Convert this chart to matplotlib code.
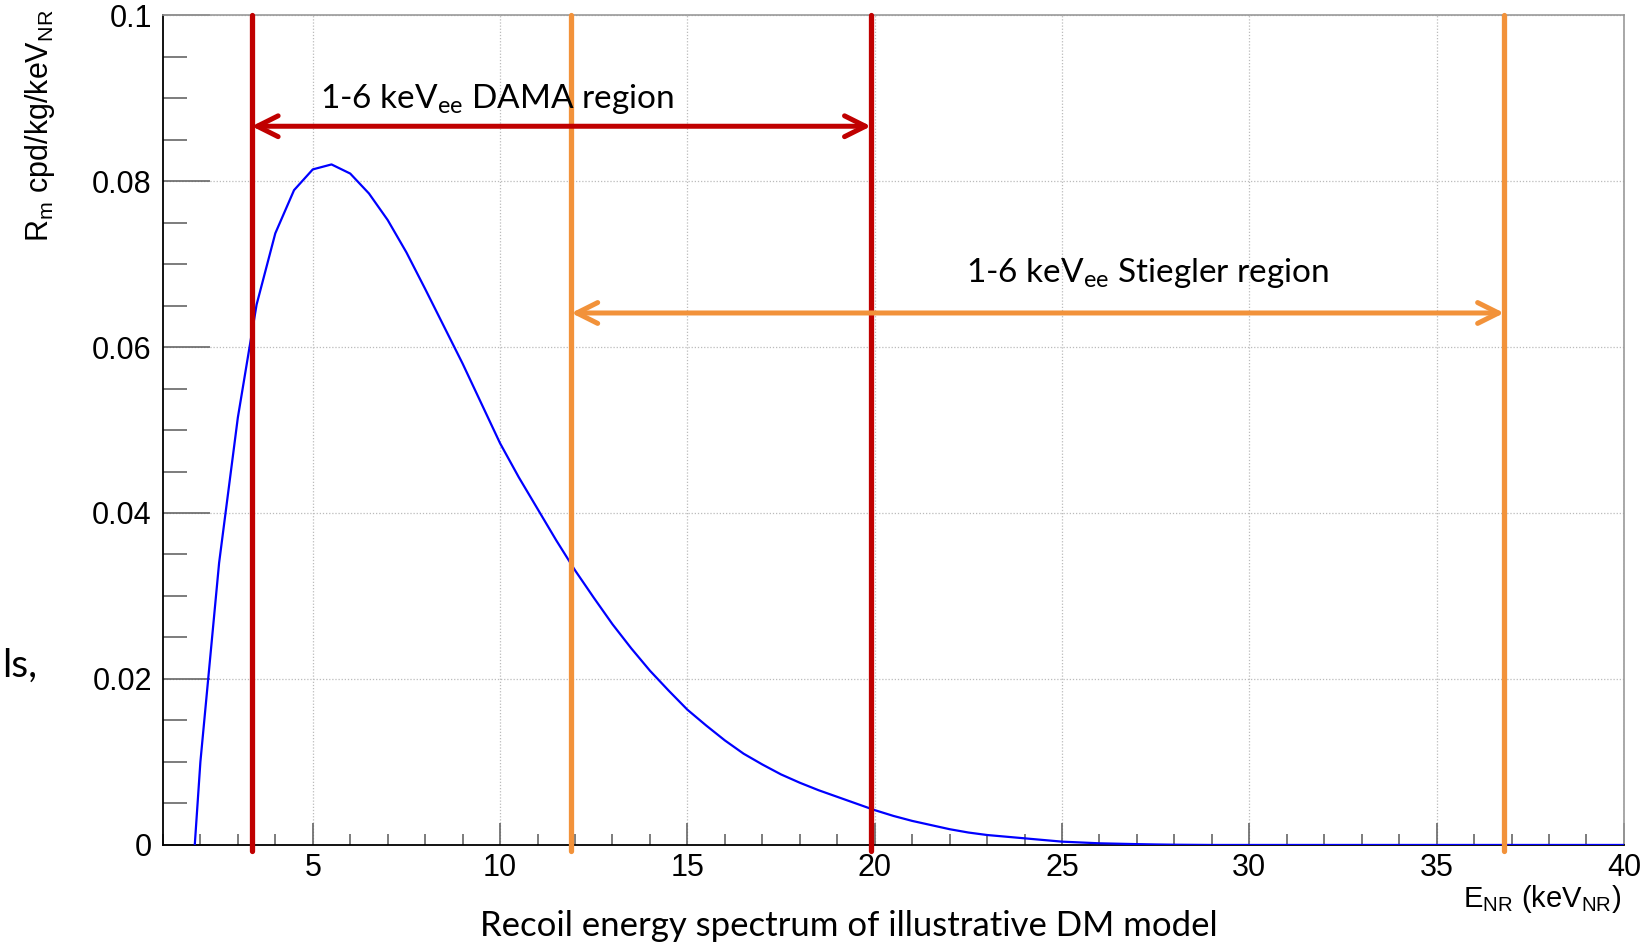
import matplotlib
matplotlib.use("Agg")
import matplotlib.pyplot as plt
from matplotlib.ticker import MultipleLocator, FixedLocator

# Шрифты: подписи графика в стиле Helvetica, аннотации в стиле Gill Sans
plt.rcParams['font.family'] = ['Liberation Sans', 'DejaVu Sans']
plt.rcParams['mathtext.fontset'] = 'custom'
plt.rcParams['mathtext.rm'] = 'Lato'
plt.rcParams['mathtext.sf'] = 'Liberation Sans'

# Спектр энергии отдачи
energy = [1.85, 2.0, 2.5, 3.0, 3.5, 4.0, 4.5, 5.0, 5.5, 6.0, 6.5, 7.0, 7.5, 8.0, 8.5,
          9.0, 9.5, 10.0, 10.5, 11.0, 11.5, 12.0, 12.5, 13.0, 13.5, 14.0, 14.5, 15.0,
          15.5, 16.0, 16.5, 17.0, 17.5, 18.0, 18.5, 19.0, 19.5, 20.0, 20.5, 21.0, 21.5,
          22.0, 22.5, 23.0, 23.5, 24.0, 24.5, 25.0, 25.5, 26.0, 26.5, 27.0, 27.5, 28.0,
          29.0, 30.0, 35.0, 40.0]
rate = [0.0, 0.010, 0.034, 0.0515, 0.0651, 0.0737, 0.0789, 0.0814, 0.0820, 0.0809,
        0.0785, 0.0753, 0.0714, 0.0670, 0.0625, 0.0580, 0.0532, 0.0484, 0.0443, 0.0405,
        0.0367, 0.0331, 0.0298, 0.0266, 0.0237, 0.0210, 0.0186, 0.0163, 0.0144, 0.0126,
        0.0110, 0.0097, 0.0085, 0.0075, 0.0066, 0.0058, 0.0050, 0.0042, 0.0035, 0.0029,
        0.0024, 0.0019, 0.0015, 0.0012, 0.0010, 0.0008, 0.0006, 0.0004, 0.0003, 0.0002,
        0.00015, 0.0001, 0.00006, 0.00003, 0.0, 0.0, 0.0, 0.0]

# Деления осей
x_ticks = [5, 10, 15, 20, 25, 30, 35, 40]
x_labels = ['5', '10', '15', '20', '25', '30', '35', '40']
y_ticks = [0.0, 0.02, 0.04, 0.06, 0.08, 0.1]
y_labels = ['0', '0.02', '0.04', '0.06', '0.08', '0.1']

# Границы областей (кэВ ядер отдачи)
dama_region = [3.37, 19.9]
stiegler_region = [11.9, 36.8]
dama_arrow_y = 0.0866
stiegler_arrow_y = 0.0641

red = '#c00000'
orange = '#f2923a'

fig = plt.figure(figsize=(16.49, 9.46), dpi=100)
ax = fig.add_axes([0.0988, 0.1068, 0.8860, 0.8773])

ax.plot(energy, rate, color='#0000ff', lw=1.6, zorder=3)

ax.set_xlim(1, 40)
ax.set_ylim(0, 0.1)

# Вертикальные линии областей
for x in dama_region:
    ax.plot([x, x], [-0.0007, 0.1], color=red, lw=3.8, clip_on=False, zorder=4,
            solid_capstyle='round')
for x in stiegler_region:
    ax.plot([x, x], [-0.0007, 0.1], color=orange, lw=3.8, clip_on=False, zorder=4,
            solid_capstyle='round')

# Стрелки
arrow_style = '<->,head_length=1.5,head_width=0.75'
ax.annotate('', xy=(dama_region[1], dama_arrow_y), xytext=(dama_region[0], dama_arrow_y),
            arrowprops=dict(arrowstyle=arrow_style, color=red, lw=3.6,
                            shrinkA=0, shrinkB=0), zorder=5)
ax.annotate('', xy=(stiegler_region[1], stiegler_arrow_y),
            xytext=(stiegler_region[0], stiegler_arrow_y),
            arrowprops=dict(arrowstyle=arrow_style, color=orange, lw=3.6,
                            shrinkA=0, shrinkB=0), zorder=5)

ax.text(9.91, 0.0888, r'1-6 keV$_{\mathrm{ee}}$ DAMA region', family='Lato',
        fontsize=24, ha='center', va='baseline', zorder=6)
ax.text(27.28, 0.0678, r'1-6 keV$_{\mathrm{ee}}$ Stiegler region', family='Lato',
        fontsize=24, ha='center', va='baseline', zorder=6)

# Оси и сетка
ax.xaxis.set_major_locator(FixedLocator(x_ticks))
ax.xaxis.set_minor_locator(MultipleLocator(1))
ax.yaxis.set_major_locator(FixedLocator(y_ticks))
ax.yaxis.set_minor_locator(MultipleLocator(0.005))
ax.set_xticklabels(x_labels)
ax.set_yticklabels(y_labels)

ax.tick_params(axis='both', which='both', direction='in', colors='#666666',
               labelcolor='black', labelsize=22, width=1.2)
ax.tick_params(axis='y', which='major', length=34, pad=8)
ax.tick_params(axis='y', which='minor', length=17)
ax.tick_params(axis='x', which='major', length=16, pad=6)
ax.tick_params(axis='x', which='minor', length=8)

ax.grid(True, which='major', linestyle=(0, (1, 1.5)), color='#bbbbbb', lw=0.9)
ax.set_axisbelow(True)

for side in ['left', 'bottom']:
    ax.spines[side].set_color('black')
    ax.spines[side].set_linewidth(1.3)
for side in ['top', 'right']:
    ax.spines[side].set_color('#999999')
    ax.spines[side].set_linewidth(1.2)

# Подписи осей
fig.text(0.9835, (946 - 883) / 946, r'E$_{\mathsf{NR}}$ (keV$_{\mathsf{NR}}$)',
         fontsize=21, ha='right', va='top')
fig.text(40 / 1649, (946 - 10) / 946, r'R$_{\mathsf{m}}$ cpd/kg/keV$_{\mathsf{NR}}$',
         fontsize=22, rotation=90, ha='center', va='top')

fig.text(849 / 1649, (946 - 936) / 946, 'Recoil energy spectrum of illustrative DM model',
         family='Lato', fontsize=25, ha='center', va='baseline')
fig.text(2 / 1649, (946 - 677) / 946, 'ls,', family='Lato', fontsize=28,
         ha='left', va='baseline')

fig.savefig('out.png', dpi=100)
